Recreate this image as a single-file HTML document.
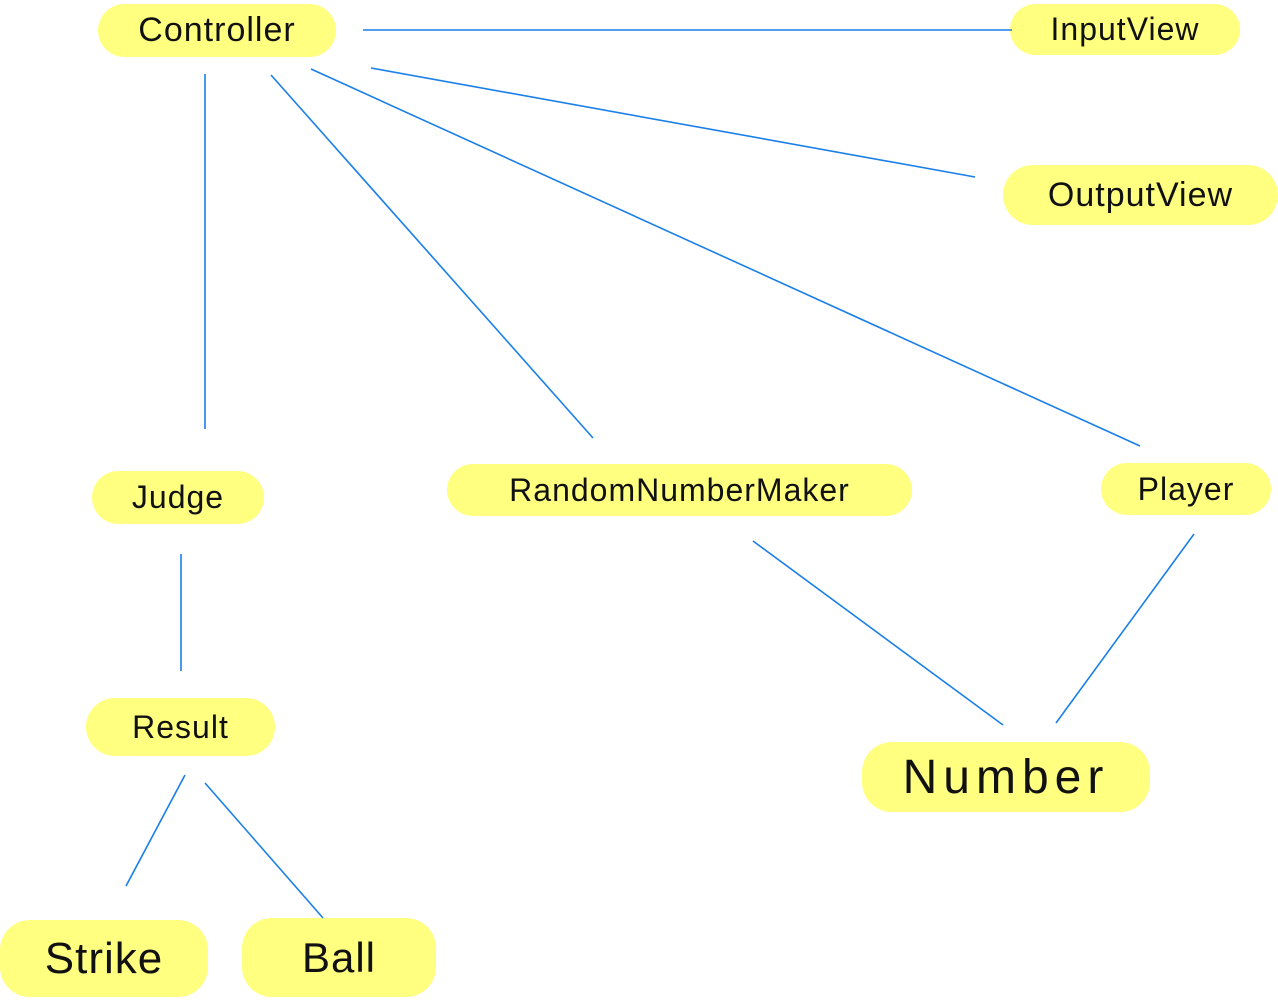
<!DOCTYPE html>
<html><head><meta charset="utf-8"><style>
html,body{margin:0;padding:0;background:#fff;width:1278px;height:1000px;overflow:hidden}
.b{position:absolute;background:#ffff80;border-radius:30px;font-family:"Liberation Sans",sans-serif;color:#111;display:flex;align-items:center;justify-content:center;font-weight:normal;letter-spacing:1px}
svg{position:absolute;left:0;top:0}
</style></head><body>
<div class="b" style="left:98px;top:4px;width:238px;height:53px;font-size:34px">Controller</div>
<div class="b" style="left:1010px;top:4px;width:230px;height:51px;font-size:32px">InputView</div>
<div class="b" style="left:1003px;top:165px;width:275px;height:60px;font-size:34px">OutputView</div>
<div class="b" style="left:92px;top:471px;width:172px;height:53px;font-size:32px">Judge</div>
<div class="b" style="left:447px;top:464px;width:465px;height:52px;font-size:32px">RandomNumberMaker</div>
<div class="b" style="left:1101px;top:463px;width:170px;height:52px;font-size:32px">Player</div>
<div class="b" style="left:86px;top:698px;width:189px;height:58px;font-size:32px">Result</div>
<div class="b" style="left:862px;top:742px;width:288px;height:70px;font-size:48px;letter-spacing:6px">Number</div>
<div class="b" style="left:0px;top:920px;width:208px;height:77px;font-size:44px">Strike</div>
<div class="b" style="left:242px;top:918px;width:194px;height:79px;font-size:42px">Ball</div>
<svg width="1278" height="1000" stroke="#1a7fe8" stroke-width="1.6" fill="none">
<line x1="363" y1="30" x2="1012" y2="30"/>
<line x1="371" y1="68" x2="975" y2="177"/>
<line x1="311" y1="69" x2="1140" y2="446"/>
<line x1="271" y1="75" x2="593" y2="438"/>
<line x1="205" y1="74" x2="205" y2="429"/>
<line x1="181" y1="554" x2="181" y2="671"/>
<line x1="753" y1="541" x2="1003" y2="725"/>
<line x1="1194" y1="534" x2="1056" y2="723"/>
<line x1="185" y1="775" x2="126" y2="886"/>
<line x1="205" y1="783" x2="323" y2="918"/>
</svg>
</body></html>
